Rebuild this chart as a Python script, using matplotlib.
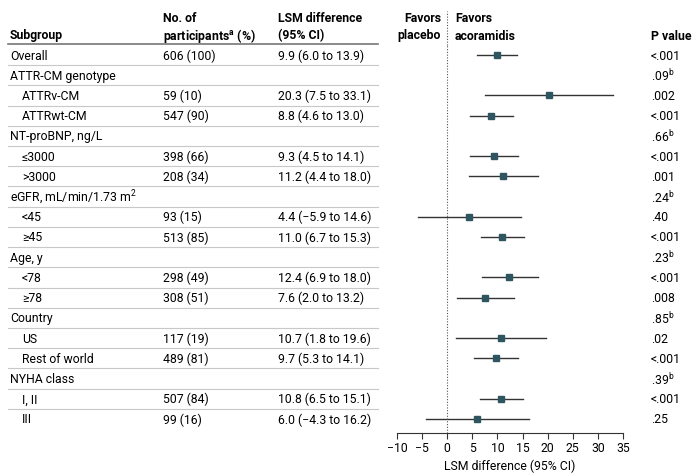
import numpy as np
import matplotlib.pyplot as plt
from matplotlib.transforms import blended_transform_factory

plt.rcParams['font.family'] = ['Roboto', 'DejaVu Sans']
plt.rcParams['mathtext.default'] = 'regular'

labels = ['Overall', 'ATTR-CM genotype', 'ATTRv-CM', 'ATTRwt-CM',
          'NT-proBNP, ng/L', '≤3000', '>3000',
          'eGFR, mL/min/1.73 m$^2$', '<45', '≥45',
          'Age, y', '<78', '≥78',
          'Country', 'US', 'Rest of world',
          'NYHA class', 'I, II', 'III']
is_group = [True, True, False, False, True, False, False, True, False, False,
            True, False, False, True, False, False, True, False, False]
participants = ['606 (100)', '', '59 (10)', '547 (90)', '', '398 (66)', '208 (34)',
                '', '93 (15)', '513 (85)', '', '298 (49)', '308 (51)',
                '', '117 (19)', '489 (81)', '', '507 (84)', '99 (16)']
est = [9.9, None, 20.3, 8.8, None, 9.3, 11.2, None, 4.4, 11.0, None, 12.4, 7.6,
       None, 10.7, 9.7, None, 10.8, 6.0]
lo = [6.0, None, 7.5, 4.6, None, 4.5, 4.4, None, -5.9, 6.7, None, 6.9, 2.0,
      None, 1.8, 5.3, None, 6.5, -4.3]
hi = [13.9, None, 33.1, 13.0, None, 14.1, 18.0, None, 14.6, 15.3, None, 18.0, 13.2,
      None, 19.6, 14.1, None, 15.1, 16.2]
pvals = ['<.001', '.09$^b$', '.002', '<.001', '.66$^b$', '<.001', '.001', '.24$^b$',
         '.40', '<.001', '.23$^b$', '<.001', '.008', '.85$^b$', '.02', '<.001',
         '.39$^b$', '<.001', '.25']

W, H = 699, 477
fs = 8.8
fig = plt.figure(figsize=(W / 100, H / 100), dpi=100)
# forest axes: x -10 at px 397, 35 at px 623; rows from y=56 (row 0) to 420 (row 18)
step = (420 - 56) / 18
y_top_px, y_bot_px = 46, 434
ax = fig.add_axes([397 / W, 1 - y_bot_px / H, (623 - 397) / W, (y_bot_px - y_top_px) / H])
ax.set_xlim(-10, 35)
ax.set_ylim((y_bot_px - 56) / step, -(56 - y_top_px) / step)

n = len(labels)
for i in range(n):
    if est[i] is not None:
        ax.plot([lo[i], hi[i]], [i, i], color='#333333', lw=1)
        ax.plot(est[i], i, 's', color='#2e5560', ms=5)

ax.axvline(0, color='#555555', lw=0.8, ls=(0, (1, 1.5)), ymax=1.0, clip_on=False)
ax.plot([0, 0], [-0.5, -2.2], color='#555555', lw=0.8, ls=(0, (1, 1.5)), clip_on=False)
for s in ['top', 'right', 'left']:
    ax.spines[s].set_visible(False)
ax.spines['bottom'].set_color('#333333')
ax.set_yticks([])
ax.set_xticks(np.arange(-10, 36, 5))
ax.tick_params(axis='x', labelsize=fs, color='#333333', length=4, pad=2)
ax.set_xlabel('LSM difference (95% CI)', fontsize=fs, labelpad=3)

tr = blended_transform_factory(fig.transFigure, ax.transData)
fx = lambda px: px / W
for i in range(n):
    x0 = 10 if is_group[i] else 22
    ax.text(fx(x0), i, labels[i], transform=tr, va='center', fontsize=fs, clip_on=False)
    ax.text(fx(163), i, participants[i], transform=tr, va='center', fontsize=fs)
    if est[i] is not None:
        ci = f'{est[i]:.1f} ({lo[i]:.1f} to {hi[i]:.1f})'.replace('-', '\u2212')
        ax.text(fx(278), i, ci, transform=tr, va='center', fontsize=fs)
    ax.text(fx(651), i, pvals[i], transform=tr, va='center', fontsize=fs)
    if i < n - 1:
        ax.plot([fx(8), fx(378)], [i + 0.5, i + 0.5], transform=tr, color='#c8c8c8',
                lw=0.8, clip_on=False)

# header
hy = lambda px: 1 - px / H
fig.text(fx(10), hy(36), 'Subgroup', fontsize=fs, weight='bold', va='center')
fig.text(fx(163), hy(18), 'No. of', fontsize=fs, weight='bold', va='center')
fig.text(fx(163), hy(36), 'participants$^a$ (%)', fontsize=fs, weight='bold', va='center')
fig.text(fx(278), hy(18), 'LSM difference', fontsize=fs, weight='bold', va='center')
fig.text(fx(278), hy(36), '(95% CI)', fontsize=fs, weight='bold', va='center')
fig.text(fx(441), hy(18), 'Favors', fontsize=fs, weight='bold', va='center', ha='right')
fig.text(fx(441), hy(36), 'placebo', fontsize=fs, weight='bold', va='center', ha='right')
fig.text(fx(455), hy(18), 'Favors', fontsize=fs, weight='bold', va='center')
fig.text(fx(455), hy(36), 'acoramidis', fontsize=fs, weight='bold', va='center')
fig.text(fx(651), hy(36), 'P value', fontsize=fs, weight='bold', va='center')
fig.add_artist(plt.Line2D([fx(8), fx(378)], [hy(45), hy(45)], color='#777777', lw=1.2))

fig.savefig('out.png', dpi=100)
